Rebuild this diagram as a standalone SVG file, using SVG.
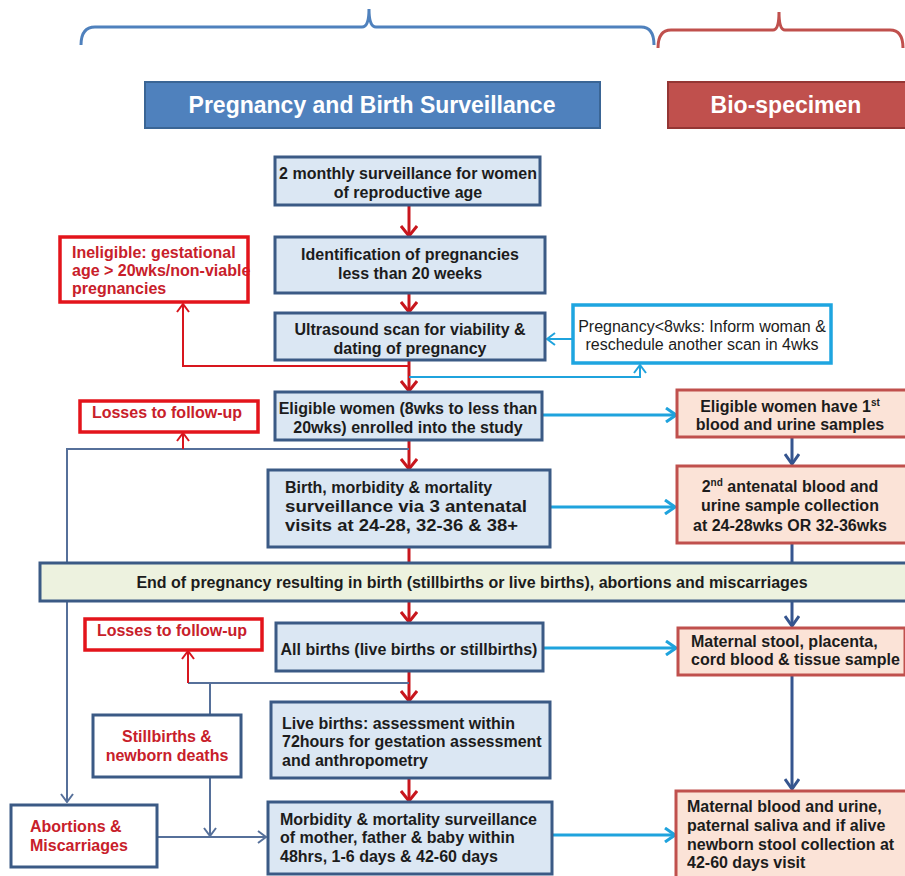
<svg xmlns="http://www.w3.org/2000/svg" width="905" height="876" viewBox="0 0 905 876">
<defs>
<style>
.box{fill:#dbe7f3;stroke:#3b5a85;stroke-width:3}
.rbox{fill:#fbe3d7;stroke:#c0504d;stroke-width:3}
.redbox{fill:#fff;stroke:#e3141b;stroke-width:3.5}
.bbox{fill:#fff;stroke:#3b5a85;stroke-width:3}
.cbox{fill:#fff;stroke:#1ea5e0;stroke-width:3.5}
.bar{fill:#edf2df;stroke:#3b5a85;stroke-width:3}
.t{font-family:"Liberation Sans",Arial,sans-serif;font-weight:bold;font-size:16px;fill:#1c1c1c}
.n{font-weight:normal}
.m{text-anchor:middle}
.rt{fill:#c8202a}
.hd{font-size:23px;fill:#fff;text-anchor:middle}
.sp{fill:none;stroke:#c8161d;stroke-width:3}
.rl{fill:none;stroke:#d8161e;stroke-width:2}
.cy{fill:none;stroke:#1fa3dd;stroke-width:3}
.cyt{fill:none;stroke:#1fa3dd;stroke-width:2}
.db{fill:none;stroke:#35558f;stroke-width:3}
.gl{fill:none;stroke:#56709a;stroke-width:2}
</style>
<marker id="aRed" markerUnits="userSpaceOnUse" viewBox="0 0 12 18" markerWidth="12" markerHeight="18" refX="11" refY="9" orient="auto"><path d="M1,1 L11,9 L1,17" fill="none" stroke="#c8161d" stroke-width="3"/></marker>
<marker id="aRedT" markerUnits="userSpaceOnUse" viewBox="0 0 10 14" markerWidth="10" markerHeight="14" refX="9" refY="7" orient="auto"><path d="M1,1 L9,7 L1,13" fill="none" stroke="#d8161e" stroke-width="2"/></marker>
<marker id="aCy" markerUnits="userSpaceOnUse" viewBox="0 0 12 16" markerWidth="12" markerHeight="16" refX="11" refY="8" orient="auto"><path d="M1,1 L11,8 L1,15" fill="none" stroke="#1fa3dd" stroke-width="3"/></marker>
<marker id="aCyT" markerUnits="userSpaceOnUse" viewBox="0 0 10 14" markerWidth="10" markerHeight="14" refX="9" refY="7" orient="auto"><path d="M1,1 L9,7 L1,13" fill="none" stroke="#1fa3dd" stroke-width="2"/></marker>
<marker id="aDb" markerUnits="userSpaceOnUse" viewBox="0 0 12 16" markerWidth="12" markerHeight="16" refX="11" refY="8" orient="auto"><path d="M1,1 L11,8 L1,15" fill="none" stroke="#35558f" stroke-width="3"/></marker>
<marker id="aGl" markerUnits="userSpaceOnUse" viewBox="0 0 10 14" markerWidth="10" markerHeight="14" refX="9" refY="7" orient="auto"><path d="M1,1 L9,7 L1,13" fill="none" stroke="#56709a" stroke-width="2"/></marker>
</defs>
<rect width="905" height="876" fill="#fff"/>

<g id="braces">
<path d="M81,45 Q81,27 95,27 L362,27 Q369,27 369,9 Q369,27 376,27 L641,27 Q654,27 654,45" fill="none" stroke="#4f81bd" stroke-width="3"/>
<path d="M658,48 Q658,30 671,30 L773,30 Q779,30 779,12 Q779,30 785,30 L890,30 Q903,30 903,48" fill="none" stroke="#c0504d" stroke-width="3"/>
</g>

<g id="connectors">
<line class="sp" x1="409" y1="205" x2="409" y2="236" marker-end="url(#aRed)"/>
<line class="sp" x1="409" y1="293" x2="409" y2="312" marker-end="url(#aRed)"/>
<line class="sp" x1="409" y1="360" x2="409" y2="391" marker-end="url(#aRed)"/>
<line class="sp" x1="409" y1="440" x2="409" y2="469" marker-end="url(#aRed)"/>
<line class="sp" x1="409" y1="547" x2="409" y2="563"/>
<line class="sp" x1="409" y1="601" x2="409" y2="622" marker-end="url(#aRed)"/>
<line class="sp" x1="409" y1="671" x2="409" y2="701" marker-end="url(#aRed)"/>
<line class="sp" x1="409" y1="778" x2="409" y2="801" marker-end="url(#aRed)"/>
<polyline class="rl" points="409,366 183,366 183,304" marker-end="url(#aRedT)"/>
<polyline class="cyt" points="409,377 640,377 640,365" marker-end="url(#aCyT)"/>
<line class="cyt" x1="573" y1="339" x2="547" y2="339" marker-end="url(#aCyT)"/>
<polyline class="gl" points="409,449 67,449 67,802" marker-end="url(#aGl)"/>
<line class="rl" x1="183" y1="449" x2="183" y2="433" marker-end="url(#aRedT)"/>
<line class="gl" x1="409" y1="683" x2="188" y2="683"/>
<line class="rl" x1="188" y1="683" x2="188" y2="651" marker-end="url(#aRedT)"/>
<line class="gl" x1="210" y1="683" x2="210" y2="714"/>
<line class="gl" x1="210" y1="778" x2="210" y2="836" marker-end="url(#aGl)"/>
<line class="gl" x1="157" y1="837" x2="266" y2="837" marker-end="url(#aGl)"/>
<line class="cy" x1="543" y1="415" x2="676" y2="415" marker-end="url(#aCy)"/>
<line class="cy" x1="550" y1="507" x2="675" y2="507" marker-end="url(#aCy)"/>
<line class="cy" x1="543" y1="648" x2="676" y2="648" marker-end="url(#aCy)"/>
<line class="cy" x1="552" y1="835" x2="675" y2="835" marker-end="url(#aCy)"/>
<line class="db" x1="792" y1="437" x2="792" y2="464" marker-end="url(#aDb)"/>
<line class="db" x1="792" y1="543" x2="792" y2="563"/>
<line class="db" x1="792" y1="601" x2="792" y2="626" marker-end="url(#aDb)"/>
<line class="db" x1="792" y1="675" x2="792" y2="789" marker-end="url(#aDb)"/>
</g>

<g id="hdr-preg">
<rect x="145" y="82" width="455" height="46" fill="#4f81bd" stroke="#3a6595" stroke-width="2"/>
<text class="t hd" x="372" y="113">Pregnancy and Birth Surveillance</text>
</g>
<g id="hdr-bio">
<rect x="668" y="82" width="240" height="46" fill="#c0504d" stroke="#943634" stroke-width="2"/>
<text class="t hd" x="786" y="113">Bio-specimen</text>
</g>

<g id="n1">
<rect class="box" x="275" y="157" width="265" height="48"/>
<text class="t m" x="408" y="179">2 monthly surveillance for women</text>
<text class="t m" x="408" y="198">of reproductive age</text>
</g>
<g id="n2">
<rect class="box" x="275" y="237" width="270" height="56"/>
<text class="t m" x="410" y="260">Identification of pregnancies</text>
<text class="t m" x="410" y="279">less than 20 weeks</text>
</g>
<g id="n3">
<rect class="box" x="275" y="313" width="270" height="47"/>
<text class="t m" x="410" y="335">Ultrasound scan for viability &amp;</text>
<text class="t m" x="410" y="354">dating of pregnancy</text>
</g>
<g id="n4">
<rect class="box" x="275" y="392" width="267" height="48"/>
<text class="t m" x="408" y="414">Eligible women (8wks to less than</text>
<text class="t m" x="408" y="433">20wks) enrolled into the study</text>
</g>
<g id="n5">
<rect class="box" x="268" y="470" width="282" height="77"/>
<text class="t" x="285" y="493">Birth, morbidity &amp; mortality</text>
<text class="t" x="285" y="512" textLength="242" lengthAdjust="spacingAndGlyphs">surveillance via 3 antenatal</text>
<text class="t" x="285" y="531" textLength="233" lengthAdjust="spacingAndGlyphs">visits at 24-28, 32-36 &amp; 38+</text>
</g>
<g id="n-end">
<rect class="bar" x="40" y="563" width="870" height="38"/>
<text class="t m" x="472" y="588">End of pregnancy resulting in birth (stillbirths or live births), abortions and miscarriages</text>
</g>
<g id="n7">
<rect class="box" x="276" y="623" width="267" height="48"/>
<text class="t m" x="409" y="655">All births (live births or stillbirths)</text>
</g>
<g id="n8">
<rect class="box" x="271" y="702" width="279" height="76"/>
<text class="t" x="282" y="729">Live births: assessment within</text>
<text class="t" x="282" y="747">72hours for gestation assessment</text>
<text class="t" x="282" y="766">and anthropometry</text>
</g>
<g id="n9">
<rect class="box" x="268" y="802" width="284" height="72"/>
<text class="t" x="280" y="825">Morbidity &amp; mortality surveillance</text>
<text class="t" x="280" y="843">of mother, father &amp; baby within</text>
<text class="t" x="280" y="862">48hrs, 1-6 days &amp; 42-60 days</text>
</g>

<g id="n-inelig">
<rect x="60" y="237" width="188" height="65" fill="#fff"/>
<text class="t rt" x="72" y="258">Ineligible: gestational</text>
<text class="t rt" x="72" y="276">age &gt; 20wks/non-viable</text>
<text class="t rt" x="72" y="294">pregnancies</text>
<rect class="redbox" x="60" y="237" width="188" height="65" style="fill:none"/>
</g>
<g id="n-loss1">
<rect class="redbox" x="80" y="401" width="178" height="31"/>
<text class="t rt m" x="167" y="418">Losses to follow-up</text>
</g>
<g id="n-loss2">
<rect class="redbox" x="85" y="619" width="177" height="31"/>
<text class="t rt m" x="172" y="636">Losses to follow-up</text>
</g>
<g id="n-still">
<rect class="bbox" x="93" y="715" width="148" height="62"/>
<text class="t rt m" x="167" y="742">Stillbirths &amp;</text>
<text class="t rt m" x="167" y="761">newborn deaths</text>
</g>
<g id="n-abort">
<rect class="bbox" x="11" y="805" width="146" height="62"/>
<text class="t rt" x="30" y="832">Abortions &amp;</text>
<text class="t rt" x="30" y="851">Miscarriages</text>
</g>
<g id="n-lt8">
<rect class="cbox" x="573" y="305" width="258" height="58"/>
<text class="t n m" x="702" y="332">Pregnancy&lt;8wks: Inform woman &amp;</text>
<text class="t n m" x="702" y="350">reschedule another scan in 4wks</text>
</g>

<g id="b1">
<rect class="rbox" x="677" y="390" width="230" height="47"/>
<text class="t m" x="790" y="412">Eligible women have 1<tspan font-size="10" dy="-6">st</tspan></text>
<text class="t m" x="790" y="430">blood and urine samples</text>
</g>
<g id="b2">
<rect class="rbox" x="677" y="466" width="230" height="77"/>
<text class="t m" x="790" y="492">2<tspan font-size="10" dy="-6">nd</tspan><tspan dy="6"> antenatal  blood and</tspan></text>
<text class="t m" x="790" y="511">urine sample collection</text>
<text class="t m" x="790" y="531">at 24-28wks OR 32-36wks</text>
</g>
<g id="b3">
<rect class="rbox" x="678" y="628" width="227" height="47"/>
<text class="t" x="691" y="647">Maternal stool, placenta,</text>
<text class="t" x="691" y="665">cord blood &amp; tissue sample</text>
</g>
<g id="b4">
<rect class="rbox" x="676" y="791" width="231" height="88"/>
<text class="t" x="687" y="812">Maternal  blood and urine,</text>
<text class="t" x="687" y="831">paternal saliva and if alive</text>
<text class="t" x="687" y="850">newborn stool collection at</text>
<text class="t" x="687" y="868">42-60 days visit</text>
</g>
</svg>
